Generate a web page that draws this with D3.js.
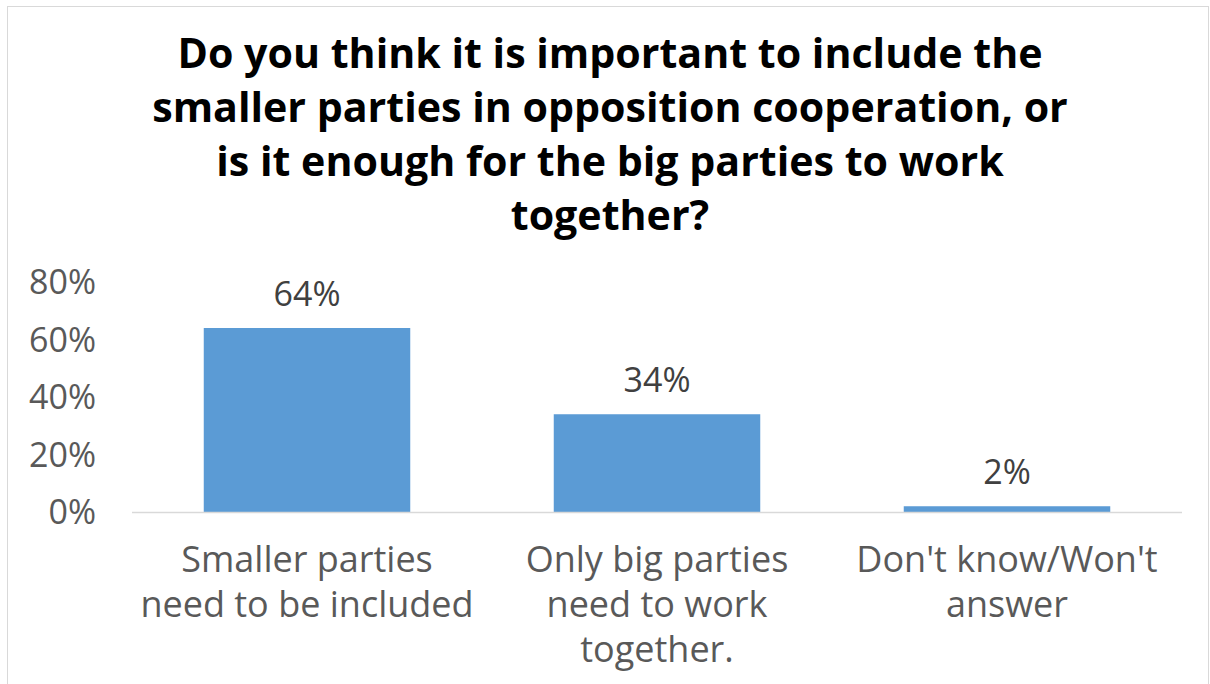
<!DOCTYPE html>
<html>
<head>
<meta charset="utf-8">
<script src="https://cdn.jsdelivr.net/npm/d3@7"></script>
<style>
  html, body { margin: 0; padding: 0; background: #fff; }
  svg { display: block; }
</style>
</head>
<body>
<svg id="chart" width="1210" height="684"></svg>
<script>
// Survey answers and shares
const categories = [
  ["Smaller parties", "need to be included"],
  ["Only big parties", "need to work", "together."],
  ["Don't know/Won't", "answer"]
];
const values = [0.64, 0.34, 0.02];
const valueLabels = ["64%", "34%", "2%"];
const yTicks = [0, 0.2, 0.4, 0.6, 0.8];
const titleLines = [
  "Do you think it is important to include the",
  "smaller parties in opposition cooperation, or",
  "is it enough for the big parties to work",
  "together?"
];

const W = 1210, H = 684;
const svg = d3.select("#chart");
const font = "'Open Sans', 'Noto Sans', sans-serif";

// Outer frame
svg.append("rect")
  .attr("x", 7.5).attr("y", 6.5)
  .attr("width", W - 9).attr("height", H)
  .attr("fill", "#fff").attr("stroke", "#d9d9d9").attr("stroke-width", 1);

// Title: size chosen so the widest line spans ~916px
const title = svg.append("text")
  .attr("text-anchor", "middle")
  .attr("font-family", "'Open Sans', Roboto, sans-serif")
  .attr("font-weight", "bold")
  .attr("font-size", 40)
  .attr("fill", "#000");
titleLines.forEach((t, i) => {
  title.append("tspan").attr("x", 610).attr("y", 68 + i * 54).text(t);
});
const widest = d3.max(title.selectAll("tspan").nodes(), n => n.getComputedTextLength());
title.attr("font-size", Math.min(42, 40 * 916 / widest));

// Plot area
const plot = { left: 132, right: 1182, top: 282, bottom: 512 };
const x = d3.scaleBand()
  .domain(d3.range(values.length))
  .range([plot.left, plot.right])
  .paddingInner(0.41).paddingOuter(0.205);
const y = d3.scaleLinear().domain([0, 0.8]).range([plot.bottom, plot.top]);

// Y axis labels
const yAxis = d3.axisLeft(y)
  .tickValues(yTicks)
  .tickFormat(d3.format(".0%"))
  .tickSize(0).tickPadding(0);
const gy = svg.append("g").attr("transform", `translate(96,0)`).call(yAxis);
gy.select(".domain").remove();
gy.selectAll("text")
  .attr("font-family", font).attr("font-size", 34)
  .attr("fill", "#595959").attr("dy", "0.35em");

// Bars
svg.append("g").selectAll("rect")
  .data(values)
  .join("rect")
  .attr("x", (d, i) => x(i))
  .attr("width", x.bandwidth())
  .attr("y", d => y(d))
  .attr("height", d => y(0) - y(d))
  .attr("fill", "#5b9bd5");

// Baseline
svg.append("line")
  .attr("x1", plot.left).attr("x2", plot.right)
  .attr("y1", y(0) + 0.5).attr("y2", y(0) + 0.5)
  .attr("stroke", "#d9d9d9").attr("stroke-width", 1.5);

// Value labels
svg.append("g").selectAll("text")
  .data(values)
  .join("text")
  .attr("x", (d, i) => x(i) + x.bandwidth() / 2)
  .attr("y", d => y(d) - 22)
  .attr("text-anchor", "middle")
  .attr("font-family", font).attr("font-size", 34)
  .attr("fill", "#404040")
  .text((d, i) => valueLabels[i]);

// Category labels
const cat = svg.append("g").selectAll("text")
  .data(categories)
  .join("text")
  .attr("text-anchor", "middle")
  .attr("font-family", font).attr("font-size", 36)
  .attr("fill", "#595959");
cat.each(function(lines, i) {
  const t = d3.select(this);
  lines.forEach((l, j) => {
    t.append("tspan")
      .attr("x", x(i) + x.bandwidth() / 2)
      .attr("y", 572 + j * 45)
      .text(l);
  });
});
</script>
</body>
</html>
